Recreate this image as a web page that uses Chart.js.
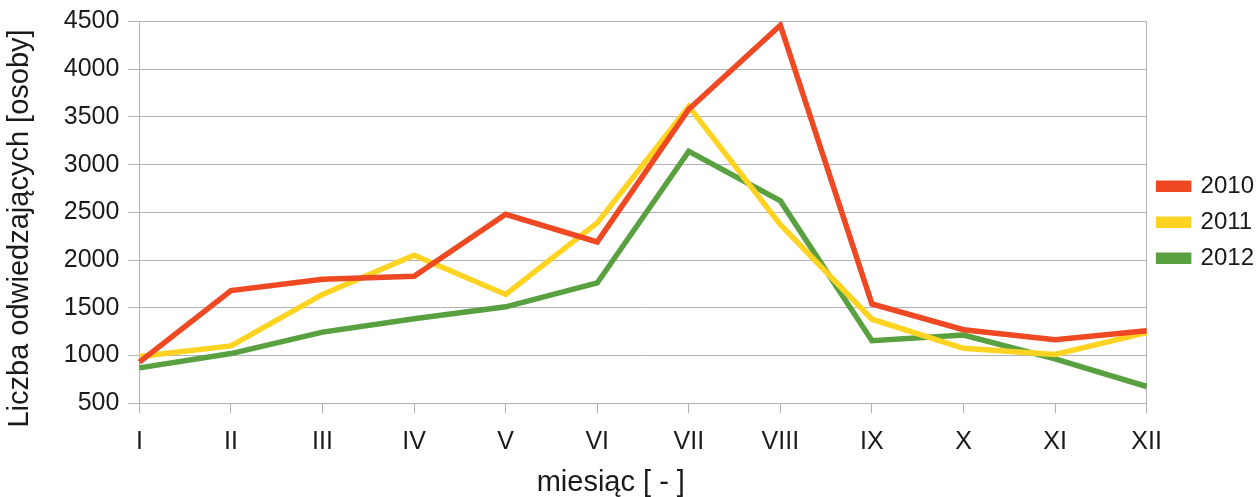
<!DOCTYPE html>
<html>
<head>
<meta charset="utf-8">
<script src="https://cdn.jsdelivr.net/npm/chart.js@4.4.1/dist/chart.umd.min.js"></script>
<style>
  html, body { margin: 0; padding: 0; background: #fff; }
  #wrap { width: 1258px; height: 497px; }
</style>
</head>
<body>
<div id="wrap"><canvas id="chart"></canvas></div>
<script>
const months = ["I", "II", "III", "IV", "V", "VI", "VII", "VIII", "IX", "X", "XI", "XII"];
const visitors2010 = [930, 1680, 1800, 1830, 2480, 2190, 3580, 4460, 1540, 1270, 1165, 1260];
const visitors2011 = [990, 1100, 1640, 2050, 1640, 2390, 3610, 2370, 1380, 1075, 1010, 1240];
const visitors2012 = [870, 1020, 1245, 1385, 1510, 1760, 3140, 2620, 1155, 1215, 965, 675];

const gridGrey = "#b3b3b3";
const textColor = "#1a1a1a";
const font = "'Liberation Sans', Arial, sans-serif";

// Wykres liczby odwiedzających
const ctx = document.getElementById("chart").getContext("2d");
new Chart(ctx, {
  type: "line",
  data: {
    labels: months,
    datasets: [
      { label: "2010", data: visitors2010, borderColor: "#ef4923", backgroundColor: "#ef4923" },
      { label: "2011", data: visitors2011, borderColor: "#fed322", backgroundColor: "#fed322" },
      { label: "2012", data: visitors2012, borderColor: "#58a040", backgroundColor: "#58a040" }
    ]
  },
  options: {
    responsive: true,
    maintainAspectRatio: false,
    animation: false,
    elements: {
      line: { borderWidth: 5.5, tension: 0, borderJoinStyle: "miter" },
      point: { radius: 0 }
    },
    layout: { padding: { top: 0, left: 3, right: -6, bottom: -3 } },
    plugins: {
      legend: {
        position: "right",
        fullSize: false,
        // pusty tytuł tylko obniża legendę
        title: { display: true, text: " ", padding: 4, font: { size: 10 } },
        labels: {
          color: textColor,
          boxWidth: 30,
          boxHeight: 6,
          padding: 12,
          font: { family: font, size: 24 }
        }
      },
      tooltip: { enabled: false }
    },
    scales: {
      x: {
        offset: false,
        grid: {
          color: (c) => (c.index === 0 || c.index === months.length - 1) ? gridGrey : "transparent",
          tickColor: gridGrey,
          tickLength: 10
        },
        border: { color: gridGrey },
        ticks: { color: textColor, padding: 14, maxRotation: 0, font: { family: font, size: 25 } },
        title: {
          display: true,
          // spacje przesuwają tytuł w lewo, jak w oryginale
          text: "miesiąc [ - ]        ",
          color: textColor,
          padding: { top: -6, bottom: 0 },
          font: { family: font, size: 29 }
        }
      },
      y: {
        min: 500,
        max: 4500,
        grid: { color: gridGrey, tickColor: gridGrey, tickLength: 11 },
        border: { color: gridGrey },
        ticks: {
          stepSize: 500,
          color: textColor,
          padding: 9,
          font: { family: font, size: 25, lineHeight: 1 },
          callback: (value) => String(value)
        },
        title: {
          display: true,
          text: "Liczba odwiedzających [osoby]    ",
          color: textColor,
          padding: { top: 0, bottom: 17 },
          font: { family: font, size: 29 }
        }
      }
    }
  }
});
</script>
</body>
</html>
